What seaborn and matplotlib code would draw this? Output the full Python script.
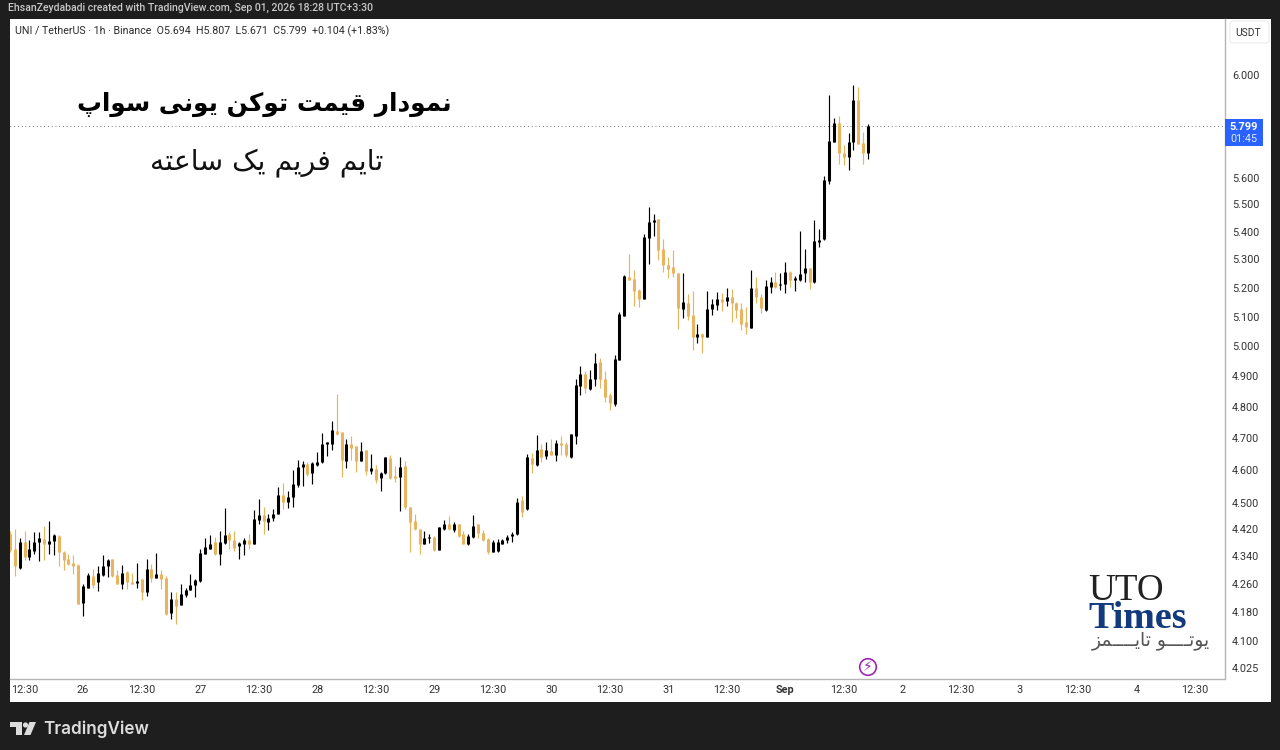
import matplotlib
matplotlib.use('Agg')
import matplotlib.pyplot as plt
from matplotlib.patches import Ellipse, Polygon, Rectangle, FancyBboxPatch
from matplotlib.ticker import NullLocator
import pandas as pd
import seaborn as sns

# hourly candles, oldest first
opens = [
    4.407, 4.362, 4.307, 4.382, 4.338, 4.357, 4.381, 4.392, 4.377, 4.384,
    4.400, 4.354, 4.331, 4.320, 4.316, 4.206, 4.249, 4.284, 4.265, 4.287,
    4.312, 4.331, 4.287, 4.259, 4.294, 4.267, 4.262, 4.273, 4.237, 4.304,
    4.278, 4.289, 4.278, 4.178, 4.216, 4.200, 4.228, 4.244, 4.256, 4.270,
    4.348, 4.362, 4.382, 4.346, 4.379, 4.405, 4.387, 4.369, 4.375, 4.387,
    4.377, 4.448, 4.463, 4.441, 4.453, 4.466, 4.522, 4.503, 4.517, 4.553,
    4.609, 4.617, 4.589, 4.614, 4.623, 4.680, 4.680, 4.722, 4.719, 4.628,
    4.682, 4.673, 4.628, 4.661, 4.597, 4.604, 4.574, 4.589, 4.638, 4.580,
    4.578, 4.611, 4.486, 4.444, 4.421, 4.377, 4.393, 4.397, 4.360, 4.421,
    4.436, 4.418, 4.434, 4.405, 4.377, 4.397, 4.434, 4.409, 4.392, 4.354,
    4.355, 4.377, 4.387, 4.399, 4.405, 4.507, 4.481, 4.638, 4.614, 4.664,
    4.643, 4.659, 4.646, 4.685, 4.680, 4.640, 4.706, 4.867, 4.906, 4.856,
    4.889, 4.947, 4.891, 4.837, 4.808, 4.952, 5.102, 5.238, 5.231, 5.192,
    5.162, 5.376, 5.435, 5.445, 5.338, 5.281, 5.273, 5.250, 5.126, 5.148,
    5.105, 5.029, 5.042, 5.031, 5.126, 5.139, 5.162, 5.154, 5.166, 5.147,
    5.127, 5.083, 5.062, 5.200, 5.168, 5.122, 5.203, 5.219, 5.208, 5.213,
    5.256, 5.227, 5.227, 5.250, 5.268, 5.219, 5.363, 5.372, 5.588, 5.737,
    5.808, 5.695, 5.677, 5.734, 5.900, 5.730, 5.694,
]
highs = [
    4.416, 4.421, 4.395, 4.416, 4.387, 4.413, 4.411, 4.430, 4.444, 4.407,
    4.402, 4.356, 4.348, 4.343, 4.318, 4.259, 4.291, 4.304, 4.311, 4.343,
    4.332, 4.333, 4.299, 4.314, 4.297, 4.292, 4.321, 4.275, 4.333, 4.318,
    4.350, 4.301, 4.284, 4.236, 4.237, 4.259, 4.249, 4.289, 4.275, 4.362,
    4.395, 4.402, 4.397, 4.414, 4.483, 4.412, 4.416, 4.382, 4.395, 4.405,
    4.478, 4.512, 4.488, 4.466, 4.481, 4.548, 4.560, 4.534, 4.601, 4.632,
    4.628, 4.625, 4.625, 4.656, 4.717, 4.686, 4.754, 4.841, 4.720, 4.698,
    4.705, 4.675, 4.687, 4.663, 4.650, 4.614, 4.594, 4.640, 4.645, 4.611,
    4.640, 4.627, 4.488, 4.464, 4.421, 4.415, 4.405, 4.399, 4.428, 4.446,
    4.458, 4.441, 4.436, 4.415, 4.405, 4.461, 4.436, 4.417, 4.394, 4.387,
    4.392, 4.392, 4.402, 4.412, 4.514, 4.519, 4.648, 4.651, 4.710, 4.680,
    4.688, 4.698, 4.695, 4.706, 4.688, 4.712, 4.889, 4.932, 4.917, 4.921,
    4.978, 4.961, 4.917, 4.845, 4.969, 5.117, 5.243, 5.321, 5.264, 5.194,
    5.393, 5.489, 5.464, 5.447, 5.374, 5.307, 5.333, 5.251, 5.250, 5.178,
    5.189, 5.073, 5.045, 5.188, 5.159, 5.184, 5.182, 5.198, 5.195, 5.151,
    5.147, 5.134, 5.262, 5.239, 5.178, 5.227, 5.239, 5.254, 5.250, 5.292,
    5.258, 5.241, 5.403, 5.337, 5.270, 5.442, 5.411, 5.605, 5.920, 5.828,
    5.837, 5.724, 5.769, 5.961, 5.953, 5.776, 5.807,
]
lows = [
    4.352, 4.284, 4.304, 4.328, 4.330, 4.346, 4.326, 4.330, 4.346, 4.343,
    4.311, 4.299, 4.314, 4.289, 4.202, 4.169, 4.248, 4.249, 4.240, 4.284,
    4.280, 4.280, 4.259, 4.246, 4.246, 4.259, 4.249, 4.214, 4.225, 4.265,
    4.278, 4.245, 4.171, 4.162, 4.146, 4.200, 4.223, 4.242, 4.223, 4.265,
    4.346, 4.362, 4.343, 4.314, 4.377, 4.362, 4.355, 4.331, 4.343, 4.362,
    4.375, 4.434, 4.407, 4.419, 4.443, 4.464, 4.481, 4.484, 4.488, 4.548,
    4.550, 4.580, 4.558, 4.612, 4.622, 4.642, 4.661, 4.708, 4.579, 4.606,
    4.632, 4.594, 4.627, 4.583, 4.587, 4.560, 4.534, 4.587, 4.572, 4.562,
    4.474, 4.481, 4.352, 4.419, 4.347, 4.375, 4.380, 4.357, 4.359, 4.419,
    4.419, 4.412, 4.397, 4.375, 4.372, 4.395, 4.395, 4.385, 4.347, 4.353,
    4.352, 4.375, 4.380, 4.382, 4.403, 4.456, 4.478, 4.589, 4.612, 4.625,
    4.635, 4.645, 4.628, 4.646, 4.640, 4.638, 4.682, 4.837, 4.845, 4.854,
    4.867, 4.859, 4.816, 4.789, 4.802, 4.952, 5.102, 5.227, 5.136, 5.132,
    5.160, 5.285, 5.385, 5.299, 5.256, 5.235, 5.238, 5.057, 5.094, 5.088,
    4.986, 5.011, 4.975, 5.029, 5.105, 5.122, 5.120, 5.137, 5.080, 5.094,
    5.054, 5.042, 5.060, 5.147, 5.111, 5.120, 5.180, 5.200, 5.192, 5.182,
    5.203, 5.188, 5.224, 5.221, 5.195, 5.218, 5.345, 5.369, 5.576, 5.737,
    5.650, 5.647, 5.628, 5.705, 5.728, 5.650, 5.671,
]
closes = [
    4.360, 4.311, 4.382, 4.338, 4.362, 4.382, 4.395, 4.377, 4.385, 4.402,
    4.352, 4.328, 4.318, 4.311, 4.204, 4.253, 4.287, 4.256, 4.291, 4.313,
    4.328, 4.284, 4.261, 4.292, 4.265, 4.261, 4.268, 4.237, 4.304, 4.277,
    4.289, 4.273, 4.176, 4.216, 4.197, 4.230, 4.244, 4.258, 4.272, 4.351,
    4.367, 4.377, 4.348, 4.382, 4.402, 4.387, 4.365, 4.379, 4.387, 4.375,
    4.451, 4.462, 4.444, 4.454, 4.466, 4.522, 4.502, 4.517, 4.558, 4.609,
    4.617, 4.587, 4.620, 4.625, 4.682, 4.686, 4.724, 4.712, 4.630, 4.680,
    4.667, 4.628, 4.659, 4.597, 4.605, 4.570, 4.591, 4.639, 4.576, 4.574,
    4.609, 4.486, 4.441, 4.421, 4.377, 4.395, 4.397, 4.360, 4.426, 4.434,
    4.421, 4.436, 4.399, 4.377, 4.399, 4.431, 4.409, 4.389, 4.352, 4.382,
    4.382, 4.387, 4.397, 4.407, 4.502, 4.471, 4.640, 4.617, 4.663, 4.640,
    4.662, 4.646, 4.685, 4.677, 4.646, 4.711, 4.870, 4.906, 4.859, 4.889,
    4.943, 4.889, 4.832, 4.812, 4.958, 5.108, 5.241, 5.227, 5.189, 5.162,
    5.379, 5.435, 5.442, 5.333, 5.279, 5.267, 5.250, 5.128, 5.151, 5.103,
    5.031, 5.042, 5.031, 5.126, 5.142, 5.159, 5.151, 5.168, 5.147, 5.124,
    5.074, 5.063, 5.198, 5.166, 5.128, 5.206, 5.219, 5.203, 5.213, 5.255,
    5.227, 5.233, 5.248, 5.268, 5.221, 5.365, 5.371, 5.591, 5.739, 5.808,
    5.695, 5.677, 5.734, 5.900, 5.728, 5.692, 5.799,
]

price_ticks = [6.0, 5.6, 5.5, 5.4, 5.3, 5.2, 5.1, 5.0, 4.9, 4.8, 4.7, 4.6, 4.5,
               4.42, 4.34, 4.26, 4.18, 4.10, 4.025]
price_labels = ['6.000', '5.600', '5.500', '5.400', '5.300', '5.200', '5.100',
                '5.000', '4.900', '4.800', '4.700', '4.600', '4.500', '4.420',
                '4.340', '4.260', '4.180', '4.100', '4.025']
time_labels = ['12:30', '26', '12:30', '27', '12:30', '28', '12:30', '29',
               '12:30', '30', '12:30', '31', '12:30', 'Sep', '12:30', '2',
               '12:30', '3', '12:30', '4', '12:30']

header = 'UNI / TetherUS · 1h · Binance  O5.694  H5.807  L5.671  C5.799  +0.104 (+1.83%)'
credit = 'EhsanZeydabadi created with TradingView.com, Sep 01, 2026 18:28 UTC+3:30'
title_fa = 'نمودار قیمت توکن یونی سواپ'
subtitle_fa = 'تایم فریم یک ساعته'
logo_fa = 'یوتــــو تایــــمز'

UP = '#000000'
DOWN = '#e9b45f'

# matplotlib does not shape Arabic script, so pick the joined forms by hand
FORMS = {
    'ن': '\ufee5\ufee6\ufee7\ufee8', 'م': '\ufee1\ufee2\ufee3\ufee4',
    'و': '\ufeed\ufeee', 'د': '\ufea9\ufeaa', 'ا': '\ufe8d\ufe8e',
    'ر': '\ufead\ufeae', 'ز': '\ufeaf\ufeb0',
    'ق': '\ufed5\ufed6\ufed7\ufed8', 'ی': '\ufbfc\ufbfd\ufbfe\ufbff',
    'ت': '\ufe95\ufe96\ufe97\ufe98', 'ک': '\ufb8e\ufb8f\ufb90\ufb91',
    'س': '\ufeb1\ufeb2\ufeb3\ufeb4', 'پ': '\ufb56\ufb57\ufb58\ufb59',
    'ف': '\ufed1\ufed2\ufed3\ufed4', 'ع': '\ufec9\ufeca\ufecb\ufecc',
    'ه': '\ufee9\ufeea\ufeeb\ufeec', 'ـ': '\u0640\u0640\u0640\u0640',
}
NO_NEXT = 'اودرز'


def shape(text):
    out = []
    for i, ch in enumerate(text):
        if ch not in FORMS:
            out.append(ch)
            continue
        prev = text[i - 1] if i > 0 else ' '
        nxt = text[i + 1] if i < len(text) - 1 else ' '
        to_prev = prev in FORMS and prev not in NO_NEXT
        to_next = nxt in FORMS and ch not in NO_NEXT
        if to_prev and to_next:
            out.append(FORMS[ch][3])
        elif to_next:
            out.append(FORMS[ch][2])
        elif to_prev:
            out.append(FORMS[ch][1])
        else:
            out.append(FORMS[ch][0])
    return ''.join(reversed(out))


def fx(x):
    return x / 1280


def fy(y):
    return 1 - y / 750


def label(x, y, s, **kw):
    kw.setdefault('va', 'center')
    fig.text(fx(x), fy(y), s, **kw)


def dot(x, y, r, **kw):
    fig.add_artist(Ellipse((fx(x), fy(y)), 2 * r / 1280, 2 * r / 750,
                           transform=fig.transFigure, **kw))


sns.set_theme(style='white')
plt.rcParams['font.family'] = ['Roboto', 'DejaVu Sans']

df = pd.DataFrame({'bar': range(len(opens)), 'open': opens, 'high': highs,
                   'low': lows, 'close': closes})
df['side'] = ['up' if c >= o else 'down' for o, c in zip(opens, closes)]
wicks = df.melt(id_vars=['bar', 'side'], value_vars=['high', 'low'], value_name='price')
bodies = df.melt(id_vars=['bar', 'side'], value_vars=['open', 'close'], value_name='price')

fig = plt.figure(figsize=(12.8, 7.5), dpi=100, facecolor='#1e1e1e')
fig.add_artist(Rectangle((fx(9.5), fy(702)), (1271 - 9.5) / 1280, (702 - 19) / 750,
                         transform=fig.transFigure, fc='white', ec='none', zorder=-1))
ax = fig.add_axes([fx(9.5), fy(678.5), (1225 - 9.5) / 1280, (678.5 - 19) / 750])
ax.set_facecolor('white')

palette = {'up': UP, 'down': DOWN}
sns.lineplot(data=wicks, x='bar', y='price', hue='side', units='bar', estimator=None,
             palette=palette, linewidth=0.85, legend=False, ax=ax,
             solid_capstyle='butt')
sns.lineplot(data=bodies, x='bar', y='price', hue='side', units='bar', estimator=None,
             palette=palette, linewidth=2.2, legend=False, ax=ax,
             solid_capstyle='butt')

ax.set_yscale('log')
ax.set_ylim(3.9975, 6.2306)
ax.set_xlim(-0.1, 249.2)
ax.yaxis.tick_right()
ax.set_yticks(price_ticks, price_labels)
ax.yaxis.set_minor_locator(NullLocator())
ax.set_xticks(range(3, 3 + 12 * len(time_labels), 12), time_labels)
ax.tick_params(axis='both', which='both', length=0, labelsize=7.8, labelcolor='#333333')
ax.tick_params(axis='x', pad=5)
ax.tick_params(axis='y', pad=5.2)
ax.get_xticklabels()[13].set_fontweight('bold')
ax.set(xlabel='', ylabel='')
for side in ['top', 'left']:
    ax.spines[side].set_visible(False)
for side in ['right', 'bottom']:
    ax.spines[side].set_color('#b4b4b4')
    ax.spines[side].set_linewidth(1.0)

ax.axhline(closes[-1], color='#444444', linewidth=0.6, linestyle=(0, (1, 3.5)), zorder=1)

# price tag on the right scale
fig.add_artist(Rectangle((fx(1225), fy(146)), 38 / 1280, 27 / 750,
                         transform=fig.transFigure, fc='#2962ff', ec='none'))
label(1244, 126.5, f'{closes[-1]:.3f}', color='white', fontsize=7.8, ha='center',
      fontweight='bold')
label(1244, 139.5, '01:45', color='#dfe8ff', fontsize=7.8, ha='center')

# currency button
fig.add_artist(FancyBboxPatch((fx(1230), fy(43)), 39 / 1280, 22 / 750,
                              boxstyle='round,pad=0,rounding_size=0.003',
                              transform=fig.transFigure, fc='white', ec='#ececec', lw=0.8))
label(1248, 33.5, 'USDT', color='#333333', fontsize=7.4, ha='center')

label(8, 7.5, credit, color='#c8c8c8', fontsize=7.53, fontweight='medium')
label(15, 31, header, color='#2a2a2a', fontsize=7.65)

label(452, 104, shape(title_fa), color='black', ha='right', fontsize=17.8,
      fontweight='bold', family=['DejaVu Sans'])
label(383, 163, shape(subtitle_fa), color='#111111', ha='right', fontsize=20.4,
      family=['DejaVu Sans'])

# UTO Times logo
label(1088, 600, 'UTO', color='#222222', fontsize=26.7, va='baseline',
      family=['Liberation Serif'])
label(1088, 628.5, 'Times', color='#123a7c', fontsize=27.4, fontweight='bold', va='baseline',
      family=['Liberation Serif'])
label(1210, 641, shape(logo_fa), color='#555555', ha='right', fontsize=13.5,
      family=['DejaVu Sans'])

# lightning event marker
dot(868, 667, 8.3, fc='white', ec='#9c27b0', lw=1.2)
label(868, 667, '⚡', color='#9c27b0', fontsize=10, ha='center', family=['DejaVu Sans'])

# TradingView footer
logo = '#dddddd'
fig.add_artist(Polygon([(fx(10), fy(722)), (fx(21.7), fy(722)), (fx(21.7), fy(735)),
                        (fx(16), fy(735)), (fx(16), fy(727)), (fx(10), fy(727))],
                       transform=fig.transFigure, fc=logo, ec='none'))
dot(25.5, 725, 2.6, fc=logo, ec='none')
fig.add_artist(Polygon([(fx(29.5), fy(722)), (fx(36), fy(722)), (fx(30.5), fy(735)),
                        (fx(24), fy(735))], transform=fig.transFigure, fc=logo, ec='none'))
label(43, 729, 'TradingView', color=logo, fontsize=12.3, fontweight='semibold',
      family=['Inter'])

fig.savefig('out.png', dpi=100, facecolor=fig.get_facecolor())
